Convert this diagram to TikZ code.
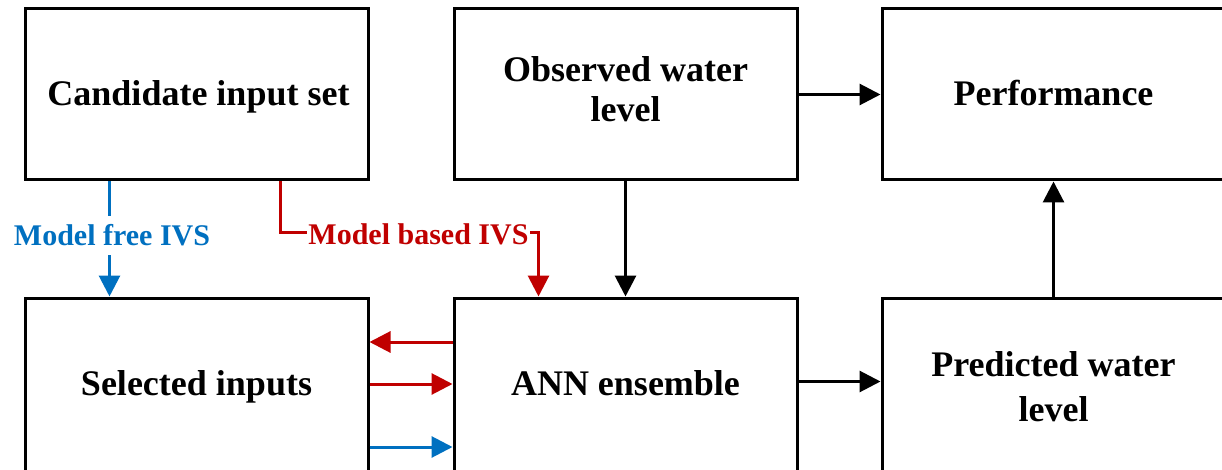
\documentclass[tikz,border=0pt]{standalone}
\usepackage{fontspec}
\setmainfont{Liberation Serif}
\usetikzlibrary{arrows.meta}
\definecolor{ivsblue}{HTML}{0070C0}
\definecolor{ivsred}{HTML}{C00000}
\tikzset{
  box/.style={draw=black, line width=3pt, fill=white, rectangle,
    minimum width=343pt, inner sep=0pt},
  txt/.style={anchor=base, inner sep=0pt,
    font=\fontsize{36}{40}\selectfont\bfseries},
  flow/.style={line width=3pt, -{Triangle[length=21pt,width=21pt]}},
  ivslabel/.style={anchor=base, fill=white, inner xsep=1.5pt, inner ysep=9pt,
    font=\fontsize{30}{34}\selectfont\bfseries},
}
\begin{document}
\begin{tikzpicture}[x=1pt, y=-1pt]
  \useasboundingbox (0,0) rectangle (1222,470);
  \clip (0,0) rectangle (1222,470);

  % upper row
  \node[box, minimum height=171pt] (cand) at (196.5,94.5) {};
  \node[box, minimum height=171pt] (obs)  at (625.5,94.5) {};
  \node[box, minimum height=171pt] (perf) at (1053.5,94.5) {};

  % lower row
  \node[box, minimum height=173pt] (sel)  at (196.5,384.5) {};
  \node[box, minimum height=173pt] (ann)  at (625.5,384.5) {};
  \node[box, minimum height=173pt] (pred) at (1053.5,384.5) {};

  % box texts
  \node[txt] (candt)  at ([xshift=2pt,yshift=-11.2pt]cand.center) {Candidate input set};
  \node[txt] (obst1)  at ([yshift=12.8pt]obs.center) {Observed water};
  \node[txt] (obst2)  at ([yshift=-27.2pt]obs.center) {level};
  \node[txt] (perft)  at ([yshift=-11.5pt]perf.center) {Performance};
  \node[txt] (selt)   at ([yshift=-10.5pt]sel.center) {Selected inputs};
  \node[txt] (annt)   at ([yshift=-11pt]ann.center) {ANN ensemble};
  \node[txt] (predt1) at ([yshift=8.5pt]pred.center) {Predicted water};
  \node[txt] (predt2) at ([yshift=-37.2pt]pred.center) {level};

  % model free input variable selection
  \draw[flow, ivsblue] ([xshift=86pt]cand.south west) -- ([xshift=86pt]sel.north west);
  \node[ivslabel, text=ivsblue] (free) at (112,246) {Model free IVS};

  % model based input variable selection
  \coordinate (rstart) at ([xshift=257pt]cand.south west);
  \coordinate (rend) at ([xshift=86pt]ann.north west);
  \coordinate (rbend) at ([yshift=64pt]rend);
  \draw[flow, ivsred] (rstart) |- (rbend) -- (rend);
  \node[ivslabel, text=ivsred, inner ysep=2pt] (based) at (418.5,244) {Model based IVS};

  % exchange between selected inputs and the ensemble
  \draw[flow, ivsred]  ([yshift=42.5pt]ann.west) -- ([yshift=42.5pt]sel.east);
  \draw[flow, ivsred]  ([yshift=0.5pt]sel.east) -- ([yshift=0.5pt]ann.west);
  \draw[flow, ivsblue] ([yshift=-62.5pt]sel.east) -- ([yshift=-62.5pt]ann.west);

  % black flows
  \draw[flow] (obs.south) -- (ann.north);
  \draw[flow] (obs.east) -- (perf.west);
  \draw[flow] ([yshift=3pt]ann.east) -- ([yshift=3pt]pred.west);
  \draw[flow] (pred.north) -- (perf.south);
\end{tikzpicture}
\end{document}
